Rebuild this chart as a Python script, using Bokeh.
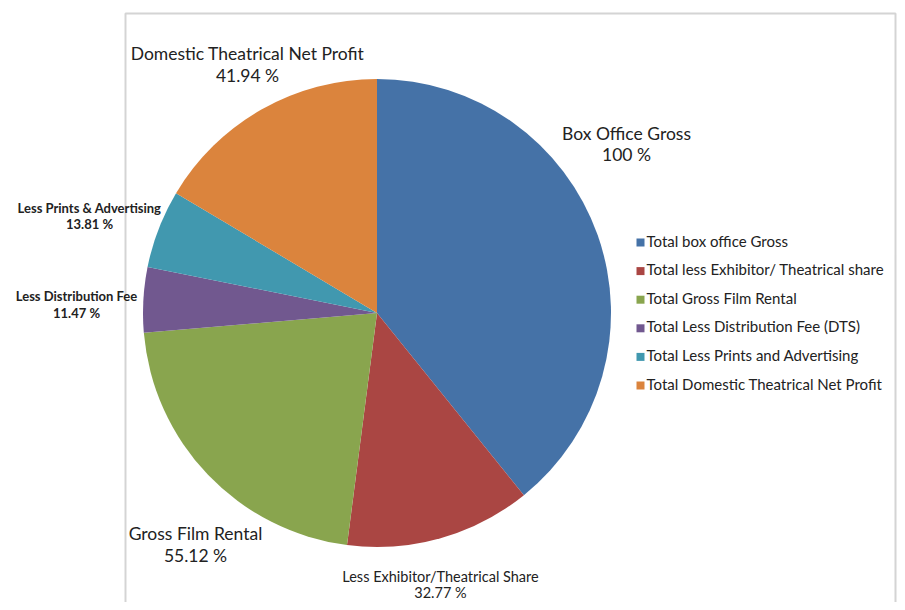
import math
from bokeh.plotting import figure
from bokeh.models import Range1d, ColumnDataSource
from bokeh.core.properties import value
from bokeh.embed import file_html
from bokeh.resources import INLINE

# ---- data ----
legend_names = [
    "Total box office Gross",
    "Total less Exhibitor/ Theatrical share",
    "Total Gross Film Rental",
    "Total Less Distribution Fee (DTS)",
    "Total Less Prints and Advertising",
    "Total Domestic Theatrical Net Profit",
]
slice_labels = [
    "Box Office Gross",
    "Less Exhibitor/Theatrical Share",
    "Gross Film Rental",
    "Less Distribution Fee",
    "Less Prints & Advertising",
    "Domestic Theatrical Net Profit",
]
values = [100, 32.77, 55.12, 11.47, 13.81, 41.94]
colors = ["#4572A7", "#AA4643", "#89A54E", "#71588F", "#4198AF", "#DB843D"]

# ---- layout (picture pixel coordinates) ----
W, H = 897, 602


def sx(x):
    return x


def sy(y):
    return H - y


p = figure(width=W, height=H, output_backend="svg", toolbar_location=None,
           x_range=Range1d(0, W), y_range=Range1d(0, H), min_border=0)
p.axis.visible = False
p.grid.visible = False
p.outline_line_color = None
p.background_fill_color = "white"

# chart area frame
p.quad(left=[sx(125)], right=[sx(895)], top=[sy(13)], bottom=[sy(640)],
       fill_color=None, line_color="#d4d4d4", line_width=2)

# pie
cx, cy, r = 376.5, 312.5, 234
total = sum(values)
starts, ends = [], []
acc = 0.0
for v in values:
    starts.append(math.pi / 2 - 2 * math.pi * acc / total)
    acc += v
    ends.append(math.pi / 2 - 2 * math.pi * acc / total)
src = ColumnDataSource(dict(start=starts, end=ends, color=colors))
p.wedge(x=sx(cx), y=sy(cy), radius=r, radius_units="screen",
        start_angle="start", end_angle="end", direction="clock",
        fill_color="color", line_color=None, source=src)

# slice labels
label_pos = [(626, 133), (440, 576), (195, 533), (76, 295), (89, 207), (247, 53)]
label_size = ["17.5px", "14.5px", "17.5px", "13px", "13px", "17.5px"]
label_style = ["normal", "normal", "normal", "bold", "bold", "normal"]
label_gap = [21, 16, 22, 17, 16, 22]
for i, lab in enumerate(slice_labels):
    x, y = label_pos[i]
    pct = f"{values[i]:g} %"
    p.text(x=[sx(x)], y=[sy(y)], text=[lab], text_align="center",
           text_baseline="middle", text_font=value("Lato"),
           text_font_size=label_size[i], text_font_style=label_style[i],
           text_color="#222222")
    p.text(x=[sx(x)], y=[sy(y + label_gap[i])], text=[pct], text_align="center",
           text_baseline="middle", text_font=value("Lato"),
           text_font_size=label_size[i], text_font_style=label_style[i],
           text_color="#222222")

# legend
leg_x, leg_y0, leg_dy = 640, 240, 28.6
for i, name in enumerate(legend_names):
    y = leg_y0 + i * leg_dy
    p.rect(x=[sx(leg_x)], y=[sy(y + 2)], width=8, height=8,
           width_units="screen", height_units="screen",
           fill_color=colors[i], line_color=None)
    p.text(x=[sx(leg_x + 6)], y=[sy(y)], text=[name], text_align="left",
           text_baseline="middle", text_font=value("Lato"),
           text_font_size="15px", text_color="#222222")

open("out.html", "w").write(file_html(p, INLINE))
